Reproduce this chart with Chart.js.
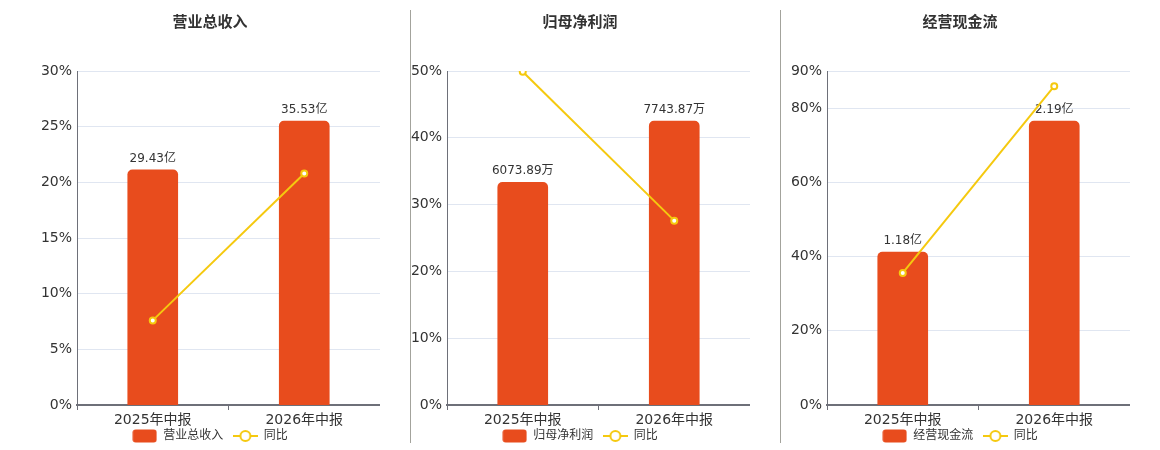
<!DOCTYPE html>
<html>
<head>
<meta charset="utf-8">
<script src="https://cdn.jsdelivr.net/npm/chart.js@4/dist/chart.umd.min.js"></script>
<style>
  body { margin: 0; background: #fff; overflow: hidden; }
  .wrap { position: relative; width: 1160px; height: 450px; overflow: hidden; }
  .wrap canvas { position: absolute; top: 0; }
  .sep { position: absolute; top: 10px; width: 1px; height: 433px; background: #a3a39c; }
</style>
</head>
<body>
<div class="wrap">
  <canvas id="c1" width="340" height="452" style="left:40px"></canvas>
  <canvas id="c2" width="340" height="452" style="left:410px"></canvas>
  <canvas id="c3" width="340" height="452" style="left:790px"></canvas>
  <div class="sep" style="left:410px"></div>
  <div class="sep" style="left:780px"></div>
</div>
<script>
var periods = ["2025年中报", "2026年中报"];

var titles = ["营业总收入", "归母净利润", "经营现金流"];
var barNames = ["营业总收入", "归母净利润", "经营现金流"];
var lineName = "同比";

// bar values (shown as labels) and YoY %
var revenue = [29.43, 35.53];
var revenueText = ["29.43亿", "35.53亿"];
var revenueYoy = [7.6, 20.8];

var profit = [6073.89, 7743.87];
var profitText = ["6073.89万", "7743.87万"];
var profitYoy = [49.9, 27.6];

var cashflow = [1.18, 2.19];
var cashflowText = ["1.18亿", "2.19亿"];
var cashflowYoy = [35.6, 85.9];

var ticks1 = [0, 5, 10, 15, 20, 25, 30];
var ticks2 = [0, 10, 20, 30, 40, 50];
var ticks3 = [0, 20, 40, 60, 80, 90];

var BAR = "#e84c1d";
var LINE = "#f5c90f";
var FONT = "'DejaVu Sans', 'Noto Sans CJK SC', sans-serif";

// legend icons drawn like the original: rounded block and line-with-circle
function barIcon() {
    var c = document.createElement("canvas");
    c.width = 25; c.height = 14;
    var x = c.getContext("2d");
    x.fillStyle = BAR;
    x.beginPath();
    x.roundRect(0.5, 0.5, 24, 13, 3);
    x.fill();
    return c;
}
function lineIcon() {
    var c = document.createElement("canvas");
    c.width = 25; c.height = 14;
    var x = c.getContext("2d");
    x.strokeStyle = LINE;
    x.lineWidth = 2;
    x.beginPath(); x.moveTo(0, 7); x.lineTo(25, 7); x.stroke();
    x.fillStyle = "#fff";
    x.beginPath(); x.arc(12.5, 7, 5, 0, Math.PI * 2); x.fill(); x.stroke();
    return c;
}

var barLabels = {
    id: "barLabels",
    afterDatasetDraw: function(chart, args) {
        if (args.index !== 0) return;
        var ctx = chart.ctx;
        var texts = chart.data.datasets[0].labelsText;
        ctx.save();
        ctx.font = "12px " + FONT;
        ctx.fillStyle = "#333";
        ctx.textAlign = "center";
        ctx.textBaseline = "bottom";
        args.meta.data.forEach(function(el, i) {
            ctx.fillText(texts[i], el.x, el.y - 5);
        });
        ctx.restore();
    }
};

function makeChart(id, title, barName, bars, barText, yoy, tickVals) {
    var icons = [barIcon(), lineIcon()];
    new Chart(document.getElementById(id), {
        type: "bar",
        data: {
            labels: periods,
            datasets: [{
                type: "bar",
                label: barName,
                data: bars,
                labelsText: barText,
                backgroundColor: BAR,
                barThickness: 50,
                borderRadius: 5,
                yAxisID: "y2",
                order: 2
            }, {
                type: "line",
                label: lineName,
                data: yoy,
                borderColor: LINE,
                borderWidth: 2,
                pointRadius: 3,
                pointBorderWidth: 2,
                pointBackgroundColor: "#fff",
                pointBorderColor: LINE,
                yAxisID: "y",
                order: 1
            }]
        },
        options: {
            responsive: false,
            animation: false,
            layout: { autoPadding: false },
            plugins: {
                title: {
                    display: true,
                    text: title,
                    color: "#333",
                    font: { family: FONT, size: 15, weight: "bold" },
                    padding: { top: 14, bottom: 39 }
                },
                legend: {
                    position: "bottom",
                    labels: {
                        usePointStyle: true,
                        pointStyleWidth: 25,
                        boxHeight: 12,
                        padding: 2,
                        color: "#333",
                        font: { family: FONT, size: 12 },
                        generateLabels: function(chart) {
                            return chart.data.datasets.map(function(ds, i) {
                                return {
                                    // trailing spaces give the gap between the two legend items
                                    text: i === 0 ? ds.label + "  " : ds.label,
                                    pointStyle: icons[i],
                                    fillStyle: "transparent",
                                    strokeStyle: "transparent",
                                    lineWidth: 0,
                                    fontColor: "#333",
                                    datasetIndex: i
                                };
                            });
                        }
                    }
                },
                tooltip: { enabled: false }
            },
            scales: {
                x: {
                    offset: true,
                    afterFit: function(scale) { scale.height = 23; },
                    grid: { drawOnChartArea: false, drawTicks: true, tickLength: 5, offset: true, color: "#6e7079", lineWidth: 1 },
                    border: { color: "#6e7079", width: 2 },
                    ticks: { color: "#333", padding: 2, font: { family: FONT, size: 14 } }
                },
                y: {
                    position: "left",
                    min: tickVals[0],
                    max: tickVals[tickVals.length - 1],
                    afterBuildTicks: function(scale) {
                        scale.ticks = tickVals.map(function(v) { return { value: v }; });
                    },
                    afterFit: function(scale) { scale.width = 37; },
                    grid: { color: "#e0e6f1", drawTicks: false },
                    border: { color: "#6e7079", width: 1 },
                    ticks: {
                        color: "#333",
                        padding: 5,
                        font: { family: FONT, size: 14 },
                        callback: function(v) { return v + "%"; }
                    }
                },
                y2: {
                    display: false,
                    min: 0,
                    max: Math.max.apply(null, bars) / 0.85
                }
            }
        },
        plugins: [barLabels]
    });
}

makeChart("c1", titles[0], barNames[0], revenue, revenueText, revenueYoy, ticks1);
makeChart("c2", titles[1], barNames[1], profit, profitText, profitYoy, ticks2);
makeChart("c3", titles[2], barNames[2], cashflow, cashflowText, cashflowYoy, ticks3);
</script>
</body>
</html>
